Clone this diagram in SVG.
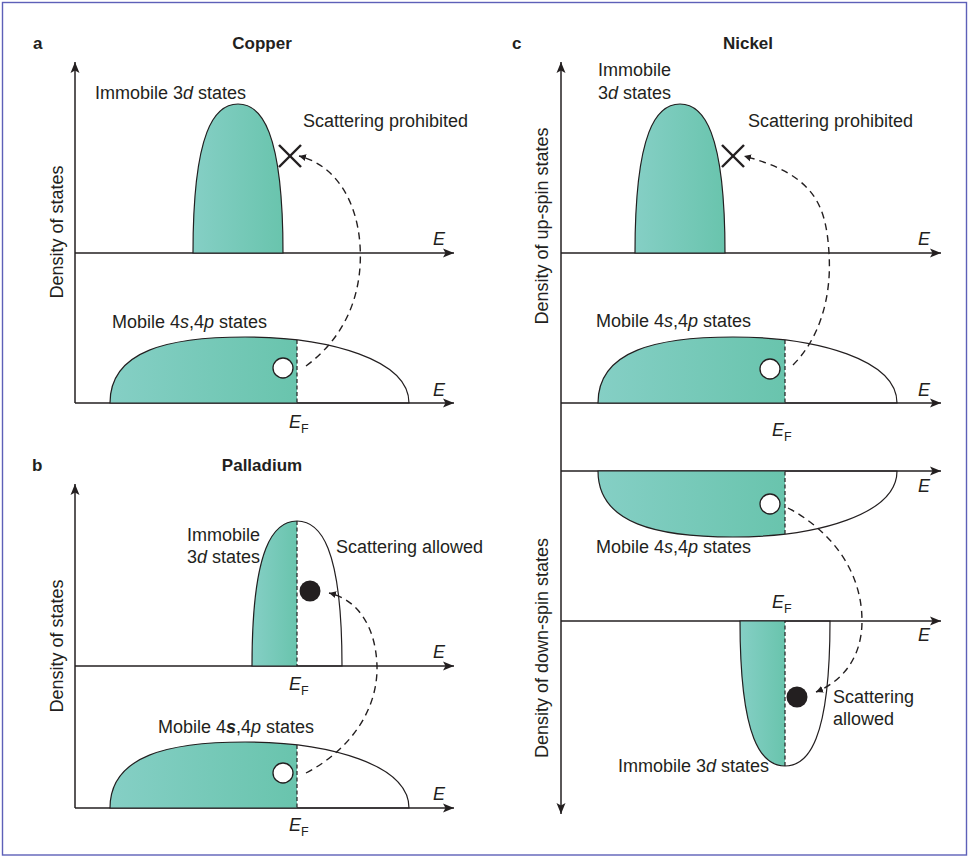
<svg xmlns="http://www.w3.org/2000/svg" xmlns:xlink="http://www.w3.org/1999/xlink" width="970" height="858" viewBox="0 0 970 858">
<style>
text{font-family:"Liberation Sans",Arial,sans-serif;font-size:18px;fill:#231f20}
.t{font-weight:bold;font-size:17px}
.i{font-style:italic}
.sub{font-size:12.5px;font-style:normal}
.ax{stroke:#231f20;stroke-width:1.5;fill:none}
.ol{fill:none;stroke:#231f20;stroke-width:1.2}
.ef{stroke:#231f20;stroke-width:1.2;stroke-dasharray:4 2.5}
.arr{fill:none;stroke:#231f20;stroke-width:1.4;stroke-dasharray:7 5}
.xm{stroke:#231f20;stroke-width:2.4}
.open{fill:#fff;stroke:#231f20;stroke-width:1.3}
.full{fill:#231f20}
</style>
<defs>
<linearGradient id="teal" x1="0" y1="0" x2="1" y2="0">
<stop offset="0" stop-color="#85cfc5"/>
<stop offset="1" stop-color="#69c4ad"/>
</linearGradient>
<path id="mob" d="M0,0 C0,-53 60,-66 135,-66 C220,-66 299,-43 299,0 Z"/>
<path id="d3a" d="M0,0 C0,-123 22,-149 45,-149 C68,-149 90,-123 90,0 Z"/>
<path id="d3b" d="M0,0 C0,-120 22,-145 45,-145 C68,-145 90,-120 90,0 Z"/>
<clipPath id="cMob"><use xlink:href="#mob"/></clipPath>
<clipPath id="cD3b"><use xlink:href="#d3b"/></clipPath>
<marker id="ah" markerWidth="12" markerHeight="10" refX="11" refY="5" orient="auto-start-reverse" markerUnits="userSpaceOnUse">
<path d="M0,0.5 L11,5 L0,9.5 L2.5,5 Z" fill="#231f20"/>
</marker>
<marker id="sm" markerWidth="8" markerHeight="8" refX="7" refY="4" orient="auto" markerUnits="userSpaceOnUse">
<path d="M0,0.5 L7,4 L0,7.5 Z" fill="#231f20"/>
</marker>
</defs>
<rect x="2.5" y="2.5" width="964" height="852.5" fill="#fff" stroke="#5d60b8" stroke-width="1.4"/>

<!-- Panel a -->
<g id="panel-a-title">
<text x="33" y="49" class="t">a</text>
<text x="262" y="49" class="t" text-anchor="middle">Copper</text>
</g>
<g id="a-axes">
<line x1="75" y1="403" x2="75" y2="62" class="ax" marker-end="url(#ah)"/>
<line x1="75" y1="253" x2="454" y2="253" class="ax" marker-end="url(#ah)"/>
<line x1="75" y1="403" x2="454" y2="403" class="ax" marker-end="url(#ah)"/>
<text x="433" y="245" class="i">E</text>
<text x="433" y="396" class="i">E</text>
<text transform="translate(63,232) rotate(-90)" text-anchor="middle">Density of states</text>
</g>
<g id="a-3d">
<g transform="translate(193,253)">
<use xlink:href="#d3a" fill="url(#teal)"/>
<use xlink:href="#d3a" class="ol"/>
</g>
<text x="95" y="99">Immobile 3<tspan class="i">d</tspan> states</text>
</g>
<g id="a-mobile">
<g transform="translate(110,403)">
<rect x="0" y="-70" width="187" height="70" fill="url(#teal)" clip-path="url(#cMob)"/>
<use xlink:href="#mob" class="ol"/>
<line x1="187" y1="-63" x2="187" y2="0" class="ef"/>
</g>
<text x="112" y="328">Mobile 4<tspan class="i">s</tspan>,4<tspan class="i">p</tspan> states</text>
<text x="289" y="428" class="i">E<tspan class="sub" dy="5">F</tspan></text>
</g>
<g id="a-hole"><circle cx="283" cy="368" r="10" class="open"/></g>
<g id="a-x">
<line x1="279" y1="145" x2="301" y2="167" class="xm"/>
<line x1="301" y1="145" x2="279" y2="167" class="xm"/>
<text x="303" y="127">Scattering prohibited</text>
</g>

<!-- Panel b -->
<g id="panel-b-title">
<text x="32" y="471" class="t">b</text>
<text x="262" y="471" class="t" text-anchor="middle">Palladium</text>
</g>
<g id="b-axes">
<line x1="75" y1="808" x2="75" y2="484" class="ax" marker-end="url(#ah)"/>
<line x1="75" y1="666" x2="454" y2="666" class="ax" marker-end="url(#ah)"/>
<line x1="75" y1="808" x2="454" y2="808" class="ax" marker-end="url(#ah)"/>
<text x="433" y="658" class="i">E</text>
<text x="433" y="800" class="i">E</text>
<text transform="translate(63,646) rotate(-90)" text-anchor="middle">Density of states</text>
</g>
<g id="b-3d">
<g transform="translate(252,666)">
<rect x="0" y="-150" width="45" height="150" fill="url(#teal)" clip-path="url(#cD3b)"/>
<use xlink:href="#d3b" class="ol"/>
<line x1="45" y1="-145" x2="45" y2="0" class="ef"/>
</g>
<text x="187" y="541">Immobile</text>
<text x="187" y="563">3<tspan class="i">d</tspan> states</text>
<text x="289" y="690" class="i">E<tspan class="sub" dy="5">F</tspan></text>
</g>
<g id="b-mobile">
<g transform="translate(110,808)">
<rect x="0" y="-70" width="187" height="70" fill="url(#teal)" clip-path="url(#cMob)"/>
<use xlink:href="#mob" class="ol"/>
<line x1="187" y1="-63" x2="187" y2="0" class="ef"/>
</g>
<text x="158" y="733">Mobile 4<tspan class="i" font-weight="bold">s</tspan>,4<tspan class="i">p</tspan> states</text>
<text x="289" y="831" class="i">E<tspan class="sub" dy="5">F</tspan></text>
</g>
<g id="b-hole"><circle cx="283" cy="773" r="10" class="open"/></g>
<g id="b-electron">
<circle cx="310" cy="591" r="10.5" class="full"/>
<text x="336" y="553">Scattering allowed</text>
</g>

<!-- Panel c -->
<g id="panel-c-title">
<text x="512" y="49" class="t">c</text>
<text x="748" y="49" class="t" text-anchor="middle">Nickel</text>
</g>
<g id="c-axes">
<line x1="561" y1="62" x2="561" y2="814" class="ax" marker-start="url(#ah)" marker-end="url(#ah)"/>
<line x1="561" y1="253" x2="941" y2="253" class="ax" marker-end="url(#ah)"/>
<line x1="561" y1="403" x2="941" y2="403" class="ax" marker-end="url(#ah)"/>
<line x1="561" y1="471" x2="941" y2="471" class="ax" marker-end="url(#ah)"/>
<line x1="561" y1="621" x2="941" y2="621" class="ax" marker-end="url(#ah)"/>
<text x="918" y="245" class="i">E</text>
<text x="918" y="396" class="i">E</text>
<text x="918" y="492" class="i">E</text>
<text x="918" y="641" class="i">E</text>
<text transform="translate(548,226) rotate(-90)" text-anchor="middle">Density of up-spin states</text>
<text transform="translate(548,648) rotate(-90)" text-anchor="middle">Density of down-spin states</text>
</g>
<g id="c-up-3d">
<g transform="translate(635,253)">
<use xlink:href="#d3a" fill="url(#teal)"/>
<use xlink:href="#d3a" class="ol"/>
</g>
<text x="598" y="76">Immobile</text>
<text x="598" y="99">3<tspan class="i">d</tspan> states</text>
</g>
<g id="c-up-x">
<line x1="722" y1="145" x2="744" y2="167" class="xm"/>
<line x1="744" y1="145" x2="722" y2="167" class="xm"/>
<text x="748" y="127">Scattering prohibited</text>
</g>
<g id="c-up-mobile">
<g transform="translate(598,403)">
<rect x="0" y="-70" width="187" height="70" fill="url(#teal)" clip-path="url(#cMob)"/>
<use xlink:href="#mob" class="ol"/>
<line x1="187" y1="-63" x2="187" y2="0" class="ef"/>
</g>
<text x="596" y="327">Mobile 4<tspan class="i">s</tspan>,4<tspan class="i">p</tspan> states</text>
<text x="772" y="436" class="i">E<tspan class="sub" dy="5">F</tspan></text>
</g>
<g id="c-up-hole"><circle cx="770" cy="369" r="10" class="open"/></g>
<g id="c-down-mobile">
<g transform="translate(598,471) scale(1,-1)">
<rect x="0" y="-70" width="187" height="70" fill="url(#teal)" clip-path="url(#cMob)"/>
<use xlink:href="#mob" class="ol"/>
<line x1="187" y1="-63" x2="187" y2="0" class="ef"/>
</g>
<text x="596" y="553">Mobile 4<tspan class="i">s</tspan>,4<tspan class="i">p</tspan> states</text>
<text x="772" y="608" class="i">E<tspan class="sub" dy="5">F</tspan></text>
</g>
<g id="c-down-hole"><circle cx="770" cy="504" r="10" class="open"/></g>
<g id="c-down-3d">
<g transform="translate(740,621) scale(1,-1)">
<rect x="0" y="-150" width="45" height="150" fill="url(#teal)" clip-path="url(#cD3b)"/>
<use xlink:href="#d3b" class="ol"/>
<line x1="45" y1="-145" x2="45" y2="0" class="ef"/>
</g>
<text x="618" y="772">Immobile 3<tspan class="i">d</tspan> states</text>
</g>
<g id="c-down-electron">
<circle cx="797" cy="697" r="10.5" class="full"/>
<text x="833" y="703">Scattering</text>
<text x="833" y="725">allowed</text>
</g>

<g id="connectors">
<path d="M306,366 C348,335 363,290 360,245 C357,200 335,165 299,156" class="arr" marker-end="url(#sm)"/>
<path d="M306,773 C350,750 378,710 377,666 C376,630 360,600 329,593" class="arr" marker-end="url(#sm)"/>
<path d="M793,365 C818,340 832,300 829,253 C826,205 815,175 744,156" class="arr" marker-end="url(#sm)"/>
<path d="M788,508 C830,530 862,570 862,621 C862,655 845,680 816,692" class="arr" marker-end="url(#sm)"/>
</g>
</svg>
